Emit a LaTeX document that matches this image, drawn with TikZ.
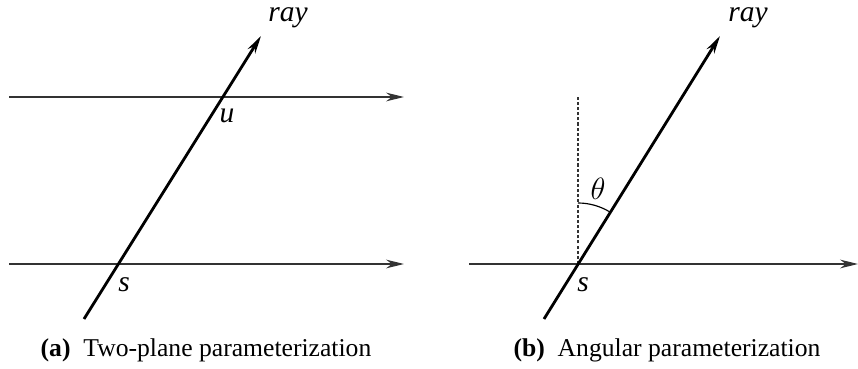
\documentclass[tikz,border=0pt]{standalone}
\usepackage{fontspec}
\setmainfont{Liberation Serif}
\usetikzlibrary{arrows.meta,positioning,calc}

\begin{document}
\begin{tikzpicture}[x=0.39pt,y=-0.39pt,>={Stealth[length=7pt,width=3.4pt]},
  plane/.style={->,line width=0.45pt,draw=black!80},
  raypath/.style={->,line width=1.1pt},
  normal/.style={densely dashed,dash pattern=on 1.2pt off 0.8pt,line width=0.4pt,draw=black!80},
  lbl/.style={font=\fontsize{11.5}{13}\selectfont,inner sep=0pt},
  captxt/.style={font=\fontsize{10}{12}\selectfont,inner sep=0pt}]
\useasboundingbox (0,0) rectangle (858,369);
% (a) two planes
\coordinate (ua) at (9,97);\coordinate (ub) at (404,97);
\coordinate (sa) at (9,264);\coordinate (sb) at (404,264);
\coordinate (ra) at (84,319);\coordinate (rb) at (261,36);
\draw[plane] (ua)--(ub);\draw[plane] (sa)--(sb);
\draw[raypath] (ra)--(rb);
\node[lbl] (raylbla) at (288,18) {\textit{ray}};
\node[lbl] (ulbl) at (227,116) {\textit{u}};
\node[lbl] (slbla) at (124,285) {\textit{s}};
\node[captxt] (capa) at (206,350) {\textbf{(a)}\enspace Two-plane parameterization};
% (b) point and angle
\coordinate (pa) at (469,264);\coordinate (pb) at (858,264);
\coordinate (s) at (578,264);\coordinate (top) at (578,97);
\coordinate (qa) at (544,319);\coordinate (qb) at (720,36);
\draw[plane] (pa)--(pb);
\draw[normal] (s)--(top);
\draw[raypath] (qa)--(qb);
\draw[line width=0.45pt] (s) ++(0,-61) arc (270:301.9:61);
\node[lbl] (raylblb) at (748,18) {\textit{ray}};
\node[lbl] (thlbl) at (598,189) {$\theta$};
\node[lbl] (slblb) at (583,285) {\textit{s}};
\node[captxt] (capb) at (667,350) {\textbf{(b)}\enspace Angular parameterization};
\end{tikzpicture}
\end{document}
